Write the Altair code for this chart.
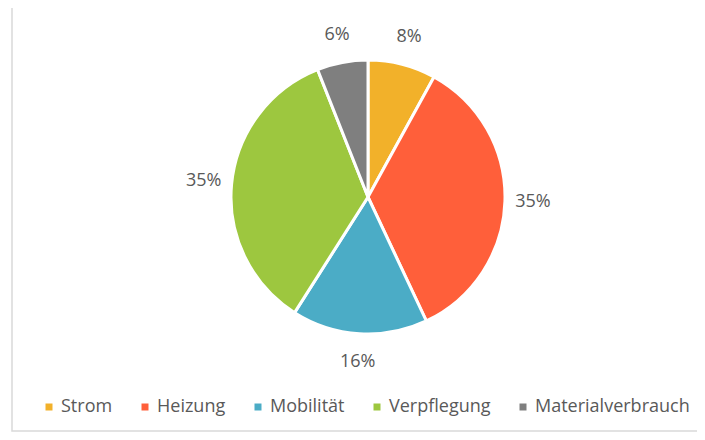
import altair as alt
import pandas as pd

categories = ["Strom", "Heizung", "Mobilität", "Verpflegung", "Materialverbrauch"]
values = [8, 35, 16, 35, 6]
labels = ["8%", "35%", "16%", "35%", "6%"]
colors = ["#F2B12A", "#FF5F3A", "#4BACC6", "#9DC73F", "#7F7F7F"]
order = [0, 1, 2, 3, 4]

df = pd.DataFrame({"Kategorie": categories, "Wert": values, "Label": labels, "Ordnung": order})

base = alt.Chart(df).encode(
    theta=alt.Theta("Wert:Q", stack=True),
    order=alt.Order("Ordnung:Q", sort="ascending"),
    x=alt.value(360),
    y=alt.value(189),
)

arc = base.mark_arc(outerRadius=137, stroke="white", strokeWidth=3).encode(
    color=alt.Color(
        "Kategorie:N",
        scale=alt.Scale(domain=categories, range=colors),
        sort=categories,
        legend=alt.Legend(
            orient="none",
            legendX=32,
            legendY=390,
            direction="horizontal",
            columns=5,
            title=None,
            symbolType="square",
            symbolSize=49,
            symbolStrokeWidth=0,
            labelFontSize=18,
            labelFont="Open Sans",
            labelColor="#595959",
            labelOffset=3,
            columnPadding=23,
            labelLimit=300,
        ),
    )
)

text = base.mark_text(radius=165, fontSize=18, font="Open Sans", color="#595959").encode(
    text="Label:N"
)

border = alt.Chart(pd.DataFrame({"a": [0]})).mark_rect(
    fillOpacity=0, stroke="#d9d9d9", strokeWidth=1.5
).encode(x=alt.value(4), x2=alt.value(700), y=alt.value(-4), y2=alt.value(423))

chart = alt.layer(border, arc, text).properties(
    width=689, height=424, padding=0, autosize=alt.AutoSizeParams(type="none")
).configure_view(stroke=None)

chart.save("out.html", embed_options={"renderer": "svg", "actions": False})
